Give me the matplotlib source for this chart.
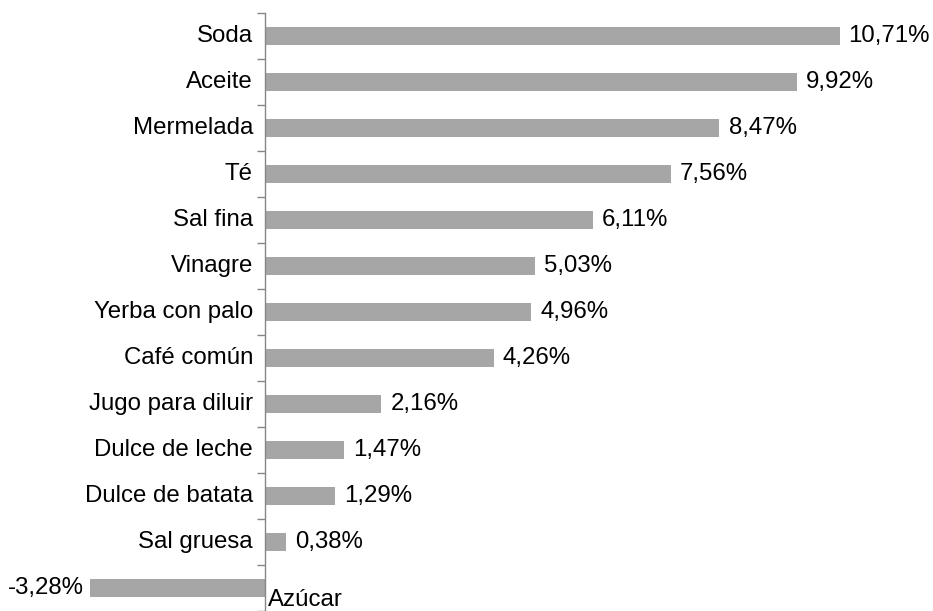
import matplotlib
matplotlib.use("Agg")
import matplotlib.pyplot as plt
import numpy as np
from matplotlib.transforms import offset_copy

categories = ["Soda", "Aceite", "Mermelada", "Té", "Sal fina", "Vinagre",
              "Yerba con palo", "Café común", "Jugo para diluir", "Dulce de leche",
              "Dulce de batata", "Sal gruesa", "Azúcar"]
values = [10.71, 9.92, 8.47, 7.56, 6.11, 5.03, 4.96, 4.26, 2.16, 1.47, 1.29, 0.38, -3.28]

plt.rcParams['font.family'] = ['Liberation Sans', 'DejaVu Sans']
W, H = 933, 611
fig = plt.figure(figsize=(W / 100, H / 100), dpi=100)
top_px = 13
ax = fig.add_axes([0, 0, 1, (H - top_px) / H])

scale = 53.6
zero_px = 265.5
ax.set_xlim(-zero_px / scale, (W - zero_px) / scale)
n = len(categories)
ax.set_ylim(n - 0.5, -0.5)

y = np.arange(n)
ax.barh(y, values, height=0.4, color="#A6A6A6", zorder=2)

for s in ["top", "right", "bottom"]:
    ax.spines[s].set_visible(False)
ax.spines["left"].set_position(("data", 0))
ax.spines["left"].set_color("#868686")
ax.spines["left"].set_linewidth(1.0)
ax.set_xticks([])
ax.set_yticks(np.arange(-0.5, n, 1.0))
ax.set_yticklabels([])
ax.tick_params(axis="y", direction="out", length=6, color="#868686", width=1.0)

fs = 17.3
for i, (c, v) in enumerate(zip(categories, values)):
    if v >= 0:
        t = offset_copy(ax.transData, fig=fig, x=-9, y=0, units="points")
        ax.text(0, i, c, transform=t, ha="right", va="center", fontsize=fs, color="black")
        t2 = offset_copy(ax.transData, fig=fig, x=6.5, y=0, units="points")
        ax.text(v, i, f"{v:.2f}%".replace(".", ","), transform=t2, ha="left", va="center",
                fontsize=fs, color="black")
    else:
        t = offset_copy(ax.transData, fig=fig, x=2, y=-9, units="points")
        ax.text(0, i, c, transform=t, ha="left", va="center", fontsize=fs, color="black")
        t2 = offset_copy(ax.transData, fig=fig, x=-4, y=0, units="points")
        ax.text(v, i, f"{v:.2f}%".replace(".", ","), transform=t2, ha="right", va="center",
                fontsize=fs, color="black")

fig.savefig("out.png", dpi=100)
